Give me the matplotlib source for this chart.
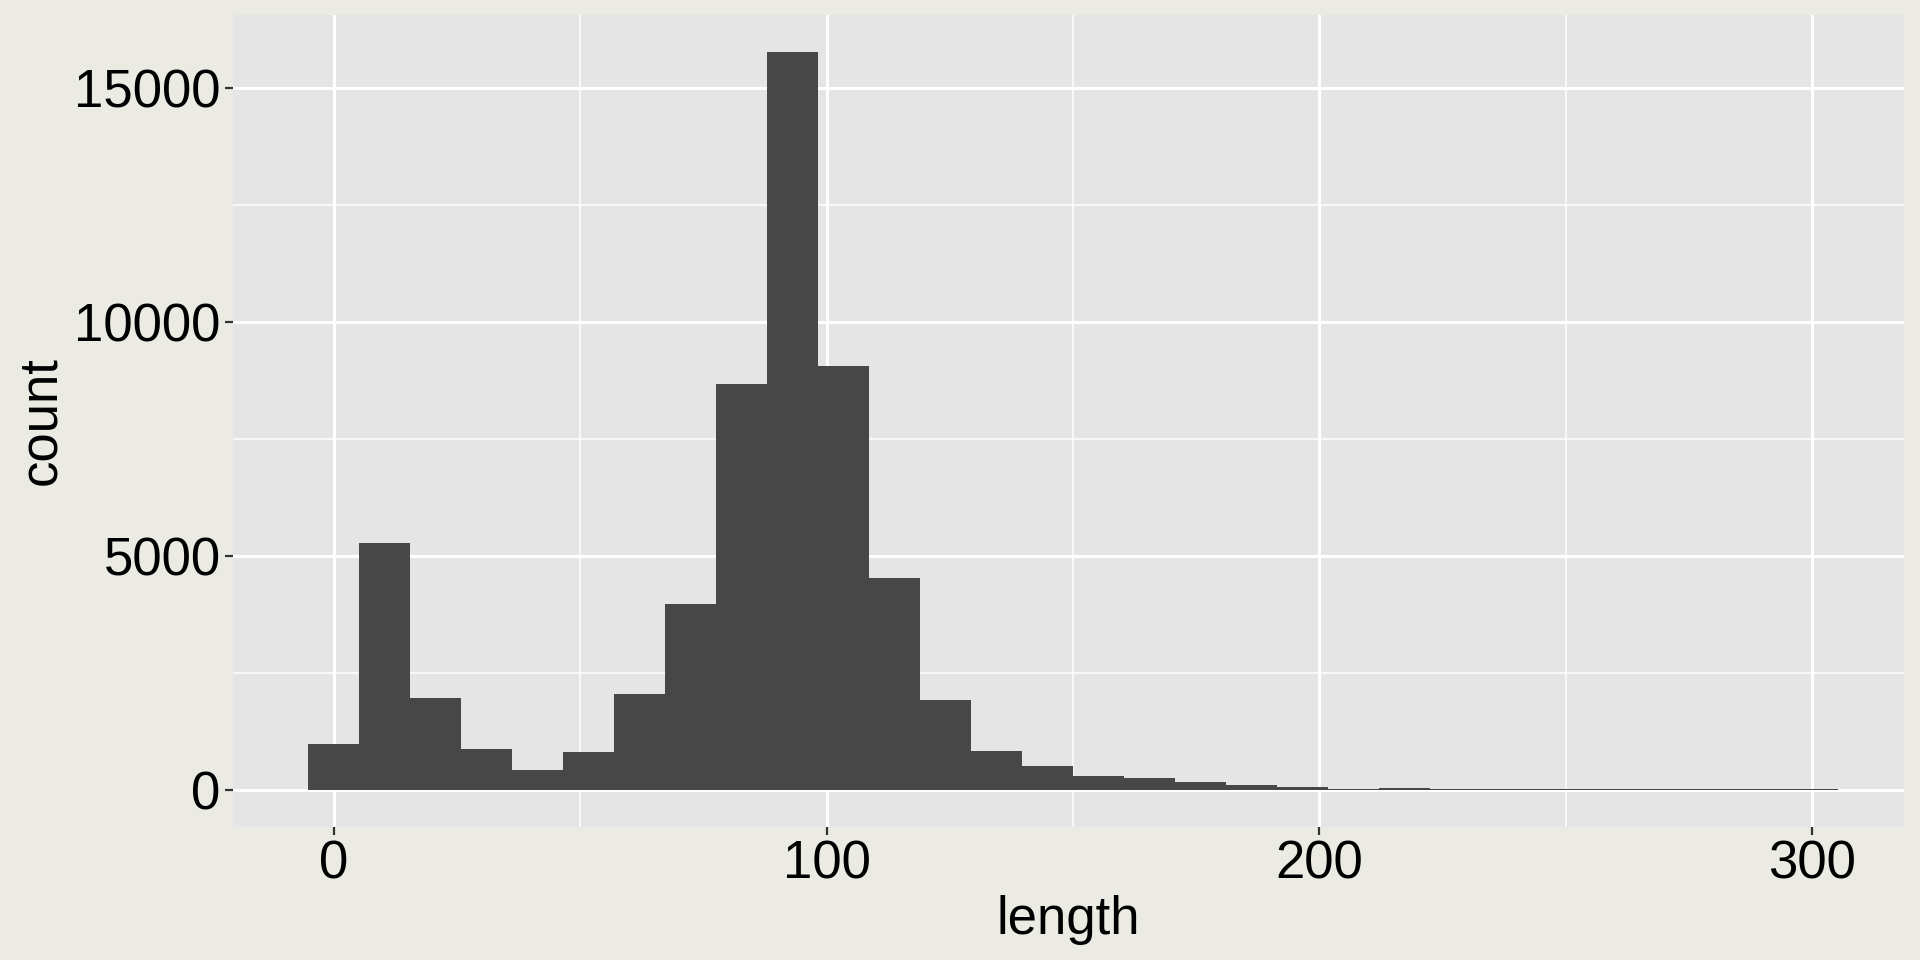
import numpy as np
import matplotlib
matplotlib.use("Agg")
import matplotlib.pyplot as plt
from matplotlib.ticker import MultipleLocator

plt.rcParams['font.family'] = ['Liberation Sans', 'DejaVu Sans']

# histogram: 30 bins centred on 0, 10.345, ... 300 (ggplot default bins)
binwidth = 300 / 29
centres = np.arange(30) * binwidth
counts = [975, 5264, 1956, 868, 420, 804, 2041, 3962, 8658, 15766,
          9050, 4517, 1913, 830, 510, 299, 256, 171, 107, 64,
          21, 43, 20, 18, 16, 11, 10, 7, 6, 4]

fig = plt.figure(figsize=(19.2, 9.6), dpi=100, facecolor='#EBEBE4')
ax = fig.add_axes([0.1214, 0.1385, 0.8703, 0.8459])
ax.set_facecolor('#E5E5E5')

ax.bar(centres, counts, width=binwidth, color='#474747', zorder=3, linewidth=0)

ax.set_xlim(-20.4, 318.6)
ax.set_ylim(-800, 16550)
ax.xaxis.set_major_locator(MultipleLocator(100))
ax.xaxis.set_minor_locator(MultipleLocator(50))
ax.yaxis.set_major_locator(MultipleLocator(5000))
ax.yaxis.set_minor_locator(MultipleLocator(2500))
ax.grid(which='major', color='white', linewidth=2.2, zorder=1)
ax.grid(which='minor', color='white', linewidth=1.1, zorder=1)

for s in ax.spines.values():
    s.set_visible(False)
ax.tick_params(which='major', length=6, width=1.6, color='#333333',
               labelsize=38, labelcolor='black', pad=3)
ax.tick_params(which='minor', length=0)

ax.set_xlabel('length', fontsize=38, labelpad=4)
ax.set_ylabel('count', fontsize=38, labelpad=6)

fig.savefig('out.png', dpi=100, facecolor=fig.get_facecolor())
